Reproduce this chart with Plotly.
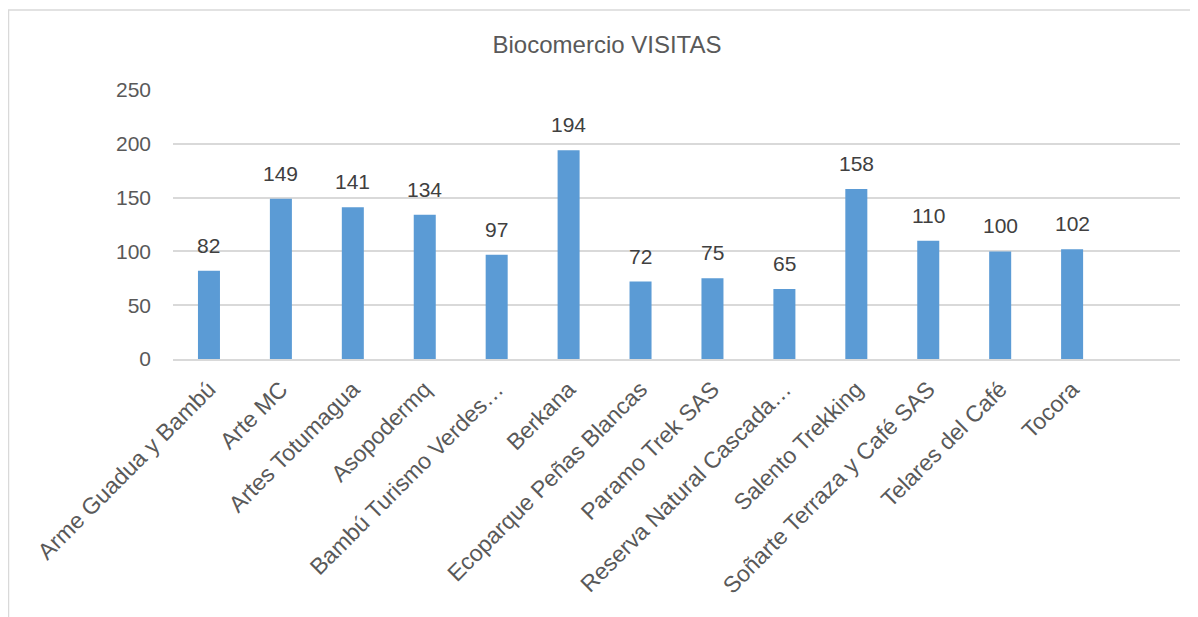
import plotly.graph_objects as go

categories = [
    "Arme Guadua y Bambú", "Arte MC", "Artes Totumagua", "Asopodermq",
    "Bambú Turismo Verdes…", "Berkana", "Ecoparque Peñas Blancas",
    "Paramo Trek SAS", "Reserva Natural Cascada…", "Salento Trekking",
    "Soñarte Terraza y Café SAS", "Telares del Café", "Tocora",
]
visitas = [82, 149, 141, 134, 97, 194, 72, 75, 65, 158, 110, 100, 102]
y_ticks = [0, 50, 100, 150, 200, 250]

# page has an 8px body margin, so figure coords = page coords - 8
W, H = 1198, 617
L, R, T, B = 165, 1172, 82, 351  # plot area pixel bounds (figure coords)
TXT = "#595959"
GRID = "#D9D9D9"
FONT = "Liberation Sans, Arial, sans-serif"

fig = go.Figure()
fig.add_trace(go.Bar(
    x=categories, y=visitas,
    marker=dict(color="#5B9BD5", line=dict(width=0)),
    hoverinfo="x+y",
))

for c, v in zip(categories, visitas):
    fig.add_annotation(x=c, y=v, text=str(v), showarrow=False,
                       yanchor="bottom", yshift=12,
                       font=dict(family=FONT, size=21, color="#404040"))

def px_to_paper_x(px):
    return (px - L) / (R - L)

def px_to_paper_y(py):
    return (B - py) / (B - T)

fig.add_shape(type="rect", xref="paper", yref="paper",
              x0=px_to_paper_x(0.5), x1=px_to_paper_x(1210),
              y0=px_to_paper_y(640), y1=px_to_paper_y(2),
              line=dict(color=GRID, width=1.5), layer="below")

fig.update_layout(
    width=W, height=H,
    margin=dict(l=L, r=W - R, t=T, b=H - B, autoexpand=False),
    paper_bgcolor="white", plot_bgcolor="white",
    bargap=0.694,
    showlegend=False,
    font=dict(family=FONT, color=TXT),
    title=dict(text="Biocomercio VISITAS", x=0.5, xref="container",
               xanchor="center", y=1 - 37 / H, yref="container", yanchor="middle",
               font=dict(family=FONT, size=24, color=TXT)),
    xaxis=dict(
        type="category", range=[-0.5, 13.5],
        tickangle=-45, tickfont=dict(family=FONT, size=23, color=TXT),
        showgrid=False, showline=True, linecolor=GRID, linewidth=1.5,
        ticks="", ticklabelstandoff=6, fixedrange=True,
    ),
    yaxis=dict(
        range=[0, 250], tickvals=y_ticks,
        tickfont=dict(family=FONT, size=21, color=TXT),
        showgrid=True, gridcolor=GRID, gridwidth=1.5,
        zeroline=False, showline=False, ticks="", ticklabelstandoff=21,
        fixedrange=True,
    ),
)

fig.write_html("out.html")
